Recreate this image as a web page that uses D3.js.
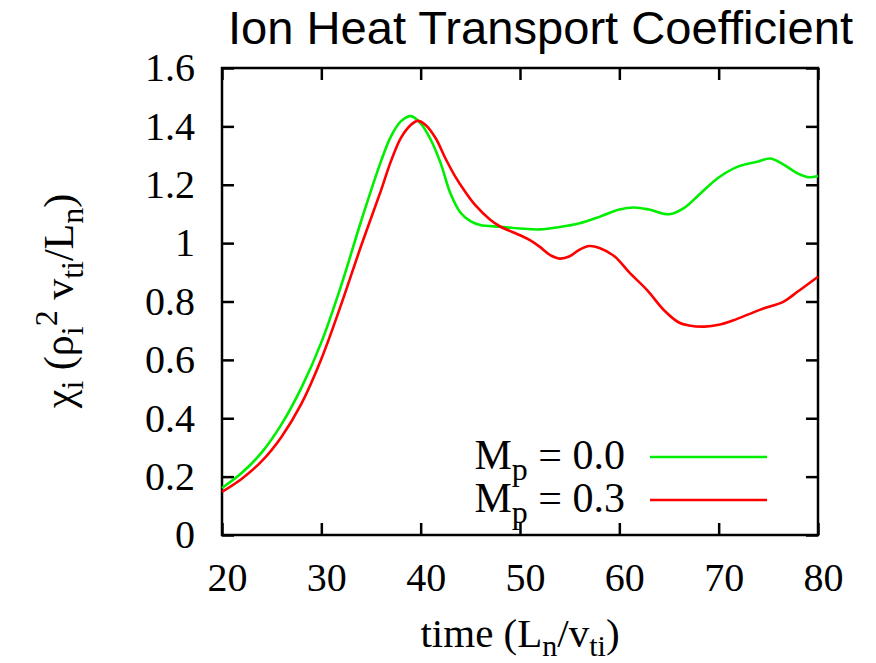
<!DOCTYPE html>
<html>
<head>
<meta charset="utf-8">
<script src="https://cdn.jsdelivr.net/npm/d3@7"></script>
<style>
body { margin: 0; background: #fff; }
svg text { font-family: "Liberation Serif", "Times New Roman", serif; }
</style>
</head>
<body>
<div class="container"></div>
<script>
// M_p = 0.0
var timeA = [20, 22, 24, 26, 28, 30, 32, 34, 36, 37, 38, 39, 40, 41, 42, 43, 44, 45, 46, 48, 50, 52, 54, 56, 58, 60, 61.5, 63, 65, 66.5, 68, 70, 72, 74, 75.2, 76.5, 78, 79, 80];
var chiA  = [0.161, 0.213, 0.283, 0.38, 0.505, 0.66, 0.855, 1.075, 1.28, 1.365, 1.417, 1.435, 1.41, 1.355, 1.275, 1.17, 1.105, 1.075, 1.062, 1.056, 1.05, 1.047, 1.055, 1.068, 1.09, 1.115, 1.122, 1.115, 1.099, 1.12, 1.165, 1.225, 1.263, 1.28, 1.29, 1.27, 1.238, 1.226, 1.23];
// M_p = 0.3
var timeB = [20, 22, 24, 26, 28, 30, 32, 34, 36, 37, 38, 39, 39.7, 40.5, 41.5, 42.5, 43.5, 44.5, 45.5, 47, 48, 50, 51, 52, 53, 54, 55, 56, 57, 58, 59.5, 61, 62.8, 64.5, 66, 67, 68.6, 70, 71.5, 73, 74.5, 76.5, 78, 80];
var chiB  = [0.148, 0.193, 0.253, 0.337, 0.45, 0.603, 0.79, 0.99, 1.18, 1.28, 1.36, 1.405, 1.419, 1.405, 1.36, 1.29, 1.227, 1.175, 1.13, 1.08, 1.057, 1.027, 1.01, 0.987, 0.96, 0.947, 0.955, 0.978, 0.99, 0.983, 0.955, 0.9, 0.839, 0.77, 0.728, 0.718, 0.714, 0.72, 0.736, 0.756, 0.776, 0.799, 0.835, 0.885];

var xTicks = [20, 30, 40, 50, 60, 70, 80];
var yTicks = [0, 0.2, 0.4, 0.6, 0.8, 1, 1.2, 1.4, 1.6];

var series = [
    {name: "0.0", t: timeA, v: chiA, color: "#00ee00"},
    {name: "0.3", t: timeB, v: chiB, color: "#ff0000"}
];

var width = 876, height = 663;
var plotL = 222, plotR = 818, plotT = 68, plotB = 535;

var svg = d3.select(".container").append("svg")
    .attr("width", width)
    .attr("height", height);

var x = d3.scaleLinear().domain([20, 80]).range([plotL, plotR]);
var y = d3.scaleLinear().domain([0, 1.6]).range([plotB, plotT]);

// title
svg.append("text")
    .attr("x", 228).attr("y", 44)
    .attr("textLength", 625)
    .attr("lengthAdjust", "spacingAndGlyphs")
    .style("font-family", "'Liberation Sans', Arial, sans-serif")
    .style("font-size", "46px")
    .text("Ion Heat Transport Coefficient");

// axes (ticks inward, mirrored)
var gx = svg.append("g").attr("transform", "translate(0," + plotB + ")")
    .call(d3.axisBottom(x).tickValues(xTicks).tickSizeInner(-12).tickSizeOuter(0).tickPadding(28).tickFormat(d3.format("d")));
gx.selectAll("text").attr("dx", 5);

var gy = svg.append("g").attr("transform", "translate(" + plotL + ",0)")
    .call(d3.axisLeft(y).tickValues(yTicks).tickSizeInner(-12).tickSizeOuter(0).tickPadding(27).tickFormat(function(d) { return String(+d.toFixed(1)); }));

svg.append("g").attr("transform", "translate(0," + plotT + ")")
    .call(d3.axisTop(x).tickValues(xTicks).tickSizeInner(-12).tickSizeOuter(0).tickFormat(""));
svg.append("g").attr("transform", "translate(" + plotR + ",0)")
    .call(d3.axisRight(y).tickValues(yTicks).tickSizeInner(-12).tickSizeOuter(0).tickFormat(""));

svg.selectAll(".domain").remove();
svg.selectAll(".tick line").attr("stroke", "#000").attr("stroke-width", 2.5);
svg.selectAll(".tick text")
    .style("font-family", "'Liberation Serif', 'Times New Roman', serif")
    .style("font-size", "40px")
    .attr("fill", "#000");

svg.append("rect")
    .attr("x", plotL).attr("y", plotT)
    .attr("width", plotR - plotL).attr("height", plotB - plotT)
    .attr("fill", "none").attr("stroke", "#000").attr("stroke-width", 2.5);

// curves
var line = d3.line()
    .x(function(d) { return x(d[0]); })
    .y(function(d) { return y(d[1]); })
    .curve(d3.curveCatmullRom);

series.forEach(function(s) {
    var pts = s.t.map(function(t, i) { return [t, s.v[i]]; });
    svg.append("path")
        .datum(pts)
        .attr("d", line)
        .attr("fill", "none")
        .attr("stroke", s.color)
        .attr("stroke-width", 2.6);
});

// legend
var legY = [457, 500];
series.forEach(function(s, i) {
    var t = svg.append("text")
        .attr("x", 625).attr("y", legY[i] + 12)
        .attr("text-anchor", "end")
        .style("font-size", "42px");
    t.append("tspan").text("M");
    t.append("tspan").attr("dy", 11).style("font-size", "32px").text("p");
    t.append("tspan").attr("dy", -11).text(" = " + s.name);
    svg.append("line")
        .attr("x1", 650).attr("x2", 767)
        .attr("y1", legY[i]).attr("y2", legY[i])
        .attr("stroke", s.color).attr("stroke-width", 2.6);
});

// x label
var xl = svg.append("text")
    .attr("x", 520).attr("y", 647)
    .attr("text-anchor", "middle")
    .style("font-size", "41px");
xl.append("tspan").text("time (L");
xl.append("tspan").attr("dy", 9).style("font-size", "30px").text("n");
xl.append("tspan").attr("dy", -9).text("/v");
xl.append("tspan").attr("dy", 9).style("font-size", "30px").text("ti");
xl.append("tspan").attr("dy", -9).text(")");

// y label
var yl = svg.append("text")
    .attr("transform", "translate(73,301) rotate(-90)")
    .attr("text-anchor", "middle")
    .style("font-size", "42px");
yl.append("tspan").text("\u03c7");
yl.append("tspan").attr("dy", 10).style("font-size", "32px").text("i");
yl.append("tspan").attr("dy", -10).text(" (\u03c1");
yl.append("tspan").attr("dy", 10).style("font-size", "32px").text("i");
yl.append("tspan").attr("dy", -26).style("font-size", "32px").text("2");
yl.append("tspan").attr("dy", 16).text(" v");
yl.append("tspan").attr("dy", 10).style("font-size", "32px").text("ti");
yl.append("tspan").attr("dy", -10).text("/L");
yl.append("tspan").attr("dy", 10).style("font-size", "32px").text("n");
yl.append("tspan").attr("dy", -10).text(")");
</script>
</body>
</html>
